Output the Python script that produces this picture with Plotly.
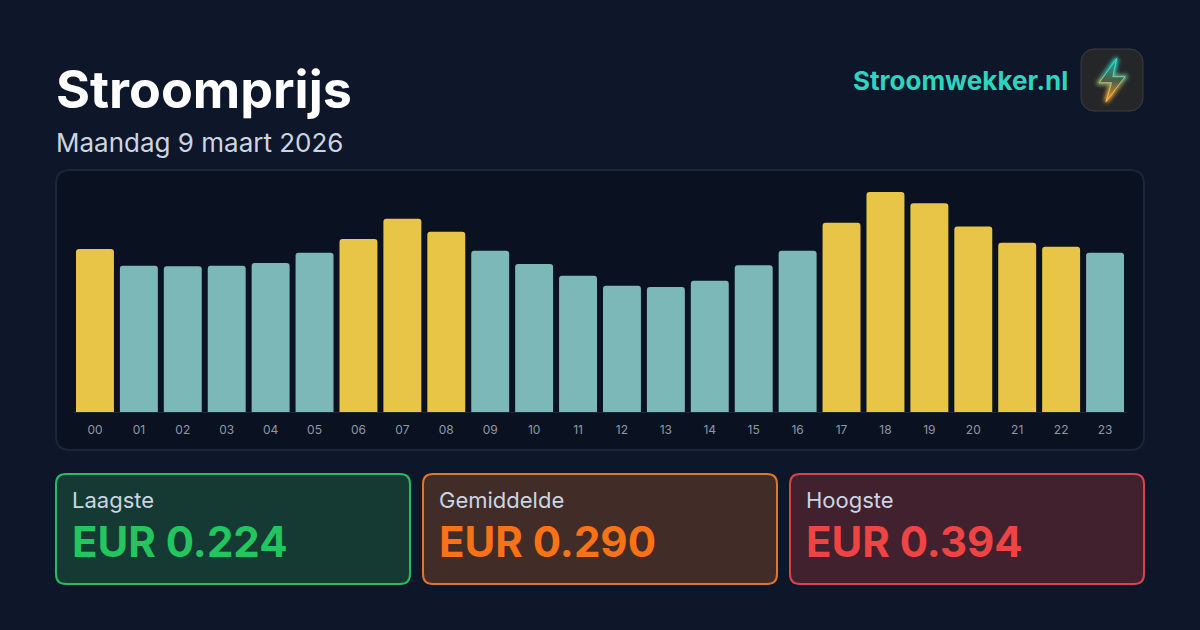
import base64
import plotly.graph_objects as go

W, H = 1200, 630

HOURS = ['00', '01', '02', '03', '04', '05', '06', '07', '08', '09', '10', '11',
         '12', '13', '14', '15', '16', '17', '18', '19', '20', '21', '22', '23']
PRICES = [0.292, 0.262, 0.261, 0.262, 0.267, 0.285, 0.310, 0.346, 0.323, 0.289, 0.265, 0.244,
          0.226, 0.224, 0.235, 0.263, 0.289, 0.339, 0.394, 0.374, 0.332, 0.303, 0.296, 0.285]
YELLOW_HOURS = ['00', '06', '07', '08', '17', '18', '19', '20', '21', '22']

CARD_LABELS = ['Laagste', 'Gemiddelde', 'Hoogste']
CARD_VALUES = ['EUR 0.224', 'EUR 0.290', 'EUR 0.394']
CARD_COLORS = ['#22c55e', '#f97316', '#ef4444']
CARD_FILLS = ['#153a33', '#412c28', '#42212f']
CARD_BORDERS = ['#2aba62', '#e0762a', '#d8444b']
CARD_LEFT = [56, 423, 790]

BG = '#0e1629'
FONT = 'Inter'


def px(x):
    return x / W


def py(y):
    return 1 - y / H


def round_rect(x0, y0, x1, y1, r, fill, line, width=2):
    # rounded box, given in page pixels
    path = (f'M {px(x0 + r)} {py(y0)} L {px(x1 - r)} {py(y0)} Q {px(x1)} {py(y0)} {px(x1)} {py(y0 + r)} '
            f'L {px(x1)} {py(y1 - r)} Q {px(x1)} {py(y1)} {px(x1 - r)} {py(y1)} '
            f'L {px(x0 + r)} {py(y1)} Q {px(x0)} {py(y1)} {px(x0)} {py(y1 - r)} '
            f'L {px(x0)} {py(y0 + r)} Q {px(x0)} {py(y0)} {px(x0 + r)} {py(y0)} Z')
    return dict(type='path', path=path, xref='paper', yref='paper', layer='below',
                fillcolor=fill, line=dict(color=line, width=width))


def text(x, y, s, size, color, bold=False, xanchor='left'):
    return dict(x=px(x), y=py(y), xref='paper', yref='paper', text=f'<b>{s}</b>' if bold else s,
                showarrow=False, xanchor=xanchor, yanchor='middle', borderpad=0,
                font=dict(family=FONT, size=size, color=color))


# the logo is small and has a gradient and a glow, so it goes in as svg
BOLT = 'M36.7 10.3 L19.2 34.8 L31.5 34.8 L26 53.7 L45 28.7 L32.8 28.7 Z'
LOGO_SVG = f'''<svg xmlns="http://www.w3.org/2000/svg" width="64" height="64" viewBox="0 0 64 64">
<defs>
<linearGradient id="g" x1="0" y1="0" x2="0" y2="1">
<stop offset="0.25" stop-color="#2ee6d0"/><stop offset="0.75" stop-color="#ffb340"/>
</linearGradient>
<linearGradient id="f" x1="0" y1="0" x2="0" y2="1">
<stop offset="0.1" stop-color="#1f9c98"/><stop offset="0.5" stop-color="#4d5c48"/><stop offset="0.9" stop-color="#c48a35"/>
</linearGradient>
<filter id="b" x="-50%" y="-50%" width="200%" height="200%"><feGaussianBlur stdDeviation="2"/></filter>
</defs>
<rect x="1" y="1" width="62" height="62" rx="13" fill="#252628" stroke="#3c3d40" stroke-width="1"/>
<path d="{BOLT}" fill="none" stroke="url(#g)" stroke-width="3.5" filter="url(#b)"/>
<path d="{BOLT}" fill="url(#f)" stroke="url(#g)" stroke-width="1"/>
</svg>'''
logo_src = 'data:image/svg+xml;base64,' + base64.b64encode(LOGO_SVG.encode()).decode()

bar_colors = ['#e8c547' if h in YELLOW_HOURS else '#7db8b8' for h in HOURS]

fig = go.Figure(go.Bar(x=HOURS, y=PRICES, marker=dict(color=bar_colors, cornerradius=3, line_width=0),
                       hoverinfo='x+y'))

shapes = [round_rect(56, 170, 1144, 450, 14, '#0a1120', '#1c2638')]
annotations = [
    text(55, 90, 'Stroomprijs', 52, '#ffffff', bold=True),
    text(55, 143, 'Maandag 9 maart 2026', 26, '#cbd5e1'),
    text(1069, 81, 'Stroomwekker.nl', 26, '#2dd4bf', bold=True, xanchor='right'),
]
for left, label, value, color, fill, border in zip(CARD_LEFT, CARD_LABELS, CARD_VALUES,
                                                   CARD_COLORS, CARD_FILLS, CARD_BORDERS):
    shapes.append(round_rect(left, 474, left + 354, 584, 10, fill, border))
    annotations.append(text(left + 15, 500, label, 22, '#cbd5e1'))
    annotations.append(text(left + 15, 541, value, 42, color, bold=True))

fig.update_layout(
    width=W, height=H,
    margin=dict(l=0, r=0, t=0, b=0),
    paper_bgcolor=BG, plot_bgcolor='rgba(0,0,0,0)',
    bargap=0.136,
    showlegend=False,
    shapes=shapes,
    annotations=annotations,
    images=[dict(source=logo_src, xref='paper', yref='paper', x=px(1080), y=py(48),
                 sizex=px(64), sizey=64 / H, xanchor='left', yanchor='top', layer='above')],
    xaxis=dict(domain=[px(73), px(1127)], type='category', showgrid=False, zeroline=False,
               showline=True, linecolor='#1c2638', linewidth=1, ticks='', ticklabelstandoff=7,
               tickfont=dict(family=FONT, size=12, color='#8f98a6'), fixedrange=True),
    yaxis=dict(domain=[py(412), py(192)], range=[0, 0.394], visible=False, fixedrange=True),
)

fig.write_html('out.html', config=dict(displayModeBar=False),
               post_script="document.body.style.margin='0';")
